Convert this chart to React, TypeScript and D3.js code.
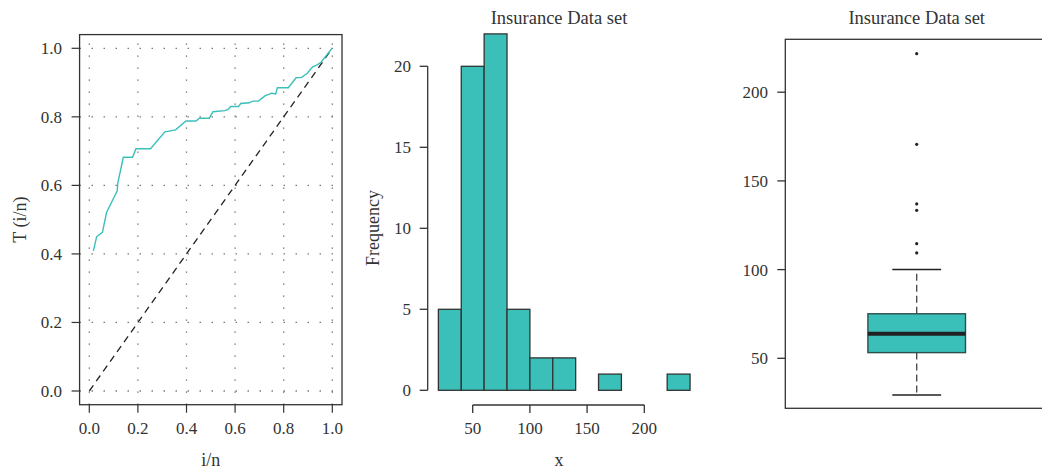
import React from "react";
import * as d3 from "d3";

// ---- Data ----
// TTT plot points (i/n, T(i/n))
const tttX = [0.017, 0.030, 0.054, 0.071, 0.115, 0.117, 0.140, 0.178, 0.192, 0.252, 0.311, 0.355, 0.398, 0.439, 0.453, 0.494, 0.509, 0.558, 0.570, 0.582, 0.614, 0.623, 0.658, 0.672, 0.696, 0.723, 0.751, 0.767, 0.774, 0.819, 0.851, 0.874, 0.897, 0.919, 0.936, 0.952, 0.991, 1.0];
const tttY = [0.409, 0.450, 0.463, 0.521, 0.584, 0.606, 0.682, 0.682, 0.707, 0.707, 0.756, 0.762, 0.788, 0.788, 0.796, 0.796, 0.815, 0.818, 0.821, 0.830, 0.830, 0.839, 0.841, 0.846, 0.846, 0.861, 0.869, 0.867, 0.885, 0.885, 0.914, 0.915, 0.927, 0.946, 0.951, 0.958, 0.993, 1.0];
const tttTicks = [0, 0.2, 0.4, 0.6, 0.8, 1.0];

// Histogram
const binEdges = [20, 40, 60, 80, 100, 120, 140, 160, 180, 200, 220, 240];
const binCounts = [5, 20, 22, 5, 2, 2, 0, 1, 0, 0, 1];
const histXTicks = [50, 100, 150, 200];
const histYTicks = [0, 5, 10, 15, 20];

// Boxplot
const boxStats = { lowWhisker: 29.3, q1: 53.2, median: 63.9, q3: 75.1, highWhisker: 100.0 };
const boxOutliers = [109.4, 114.6, 133.4, 137.0, 170.6, 221.7];
const boxYTicks = [50, 100, 150, 200];

const title = "Insurance Data set";

const TEAL = "#3bbfb9";
const INK = "#333";
const FONT = "'Liberation Serif', 'Times New Roman', serif";

export default function App() {
  // Left panel scales
  const xL = d3.scaleLinear().domain([0, 1]).range([89.3, 332.3]);
  const yL = d3.scaleLinear().domain([0, 1]).range([391, 48.3]);
  const tttLine = d3.line<number>().x((_, i) => xL(tttX[i])).y((d) => yL(d));
  const fmt1 = d3.format(".1f");

  // Histogram scales
  const xH = d3.scaleLinear().domain([50, 200]).range([472.7, 644.3]);
  const yH = d3.scaleLinear().domain([0, 20]).range([390.3, 66.3]);

  // Boxplot scales
  const yB = d3.scaleLinear().domain([50, 200]).range([358.3, 92.2]);
  const bx = 916.7;
  const bhw = 48.8;

  const tickLen = 8;

  return (
    <svg width={1042} height={470} style={{ position: "absolute", left: 0, top: 0, background: "#fff" }} fontFamily={FONT}>
      {/* ===== Left panel: TTT plot ===== */}
      <g>
        {/* grid */}
        {tttTicks.map((t) => (
          <line key={"gx" + t} x1={xL(t)} x2={xL(t)} y1={yL(-0.04)} y2={yL(1.04)} stroke="#666" strokeWidth={1.3} strokeDasharray="1.3 10.7" />
        ))}
        {tttTicks.map((t) => (
          <line key={"gy" + t} y1={yL(t)} y2={yL(t)} x1={xL(-0.04)} x2={xL(1.04)} stroke="#666" strokeWidth={1.3} strokeDasharray="1.3 10.7" />
        ))}
        {/* diagonal */}
        <line x1={xL(0)} y1={yL(0)} x2={xL(1)} y2={yL(1)} stroke="#222" strokeWidth={1.3} strokeDasharray="7 5" />
        {/* curve */}
        <path d={tttLine(tttY) || ""} fill="none" stroke={TEAL} strokeWidth={1.4} />
        {/* frame */}
        <rect x={xL(-0.04)} y={yL(1.04)} width={xL(1.04) - xL(-0.04)} height={yL(-0.04) - yL(1.04)} fill="none" stroke={INK} strokeWidth={1.3} />
        {/* y axis ticks */}
        {tttTicks.map((t) => (
          <g key={"yt" + t}>
            <line x1={xL(-0.04) - tickLen} x2={xL(-0.04)} y1={yL(t)} y2={yL(t)} stroke={INK} strokeWidth={1.2} />
            <text x={62} y={yL(t)} dy="0.35em" textAnchor="end" fontSize={17} fill={INK}>{fmt1(t)}</text>
          </g>
        ))}
        {/* x axis ticks */}
        {tttTicks.map((t) => (
          <g key={"xt" + t}>
            <line x1={xL(t)} x2={xL(t)} y1={yL(-0.04)} y2={yL(-0.04) + tickLen} stroke={INK} strokeWidth={1.2} />
            <text x={xL(t)} y={434} textAnchor="middle" fontSize={17} fill={INK}>{fmt1(t)}</text>
          </g>
        ))}
        <text x={(xL(-0.04) + xL(1.04)) / 2} y={466} textAnchor="middle" fontSize={18} fill={INK}>i/n</text>
        <text transform={`translate(26, ${(yL(-0.04) + yL(1.04)) / 2}) rotate(-90)`} textAnchor="middle" fontSize={18} fill={INK}>T (i/n)</text>
      </g>

      {/* ===== Middle panel: Histogram ===== */}
      <g>
        <text x={559} y={24} textAnchor="middle" fontSize={18.5} fill={INK}>{title}</text>
        {binCounts.map((c, i) =>
          c > 0 ? (
            <rect key={"b" + i} x={xH(binEdges[i])} y={yH(c)} width={xH(binEdges[i + 1]) - xH(binEdges[i])} height={yH(0) - yH(c)} fill={TEAL} stroke={INK} strokeWidth={1.3} />
          ) : null
        )}
        {/* y axis */}
        <line x1={427.7} x2={427.7} y1={yH(0)} y2={yH(20)} stroke={INK} strokeWidth={1.3} />
        {histYTicks.map((t) => (
          <g key={"hy" + t}>
            <line x1={427.7 - tickLen} x2={427.7} y1={yH(t)} y2={yH(t)} stroke={INK} strokeWidth={1.3} />
            <text x={411} y={yH(t)} dy="0.35em" textAnchor="end" fontSize={17} fill={INK}>{t}</text>
          </g>
        ))}
        {/* x axis */}
        <line x1={xH(50)} x2={xH(200)} y1={405} y2={405} stroke={INK} strokeWidth={1.3} />
        {histXTicks.map((t) => (
          <g key={"hx" + t}>
            <line x1={xH(t)} x2={xH(t)} y1={405} y2={405 + tickLen} stroke={INK} strokeWidth={1.3} />
            <text x={xH(t)} y={434} textAnchor="middle" fontSize={17} fill={INK}>{t}</text>
          </g>
        ))}
        <text x={559} y={466} textAnchor="middle" fontSize={18} fill={INK}>x</text>
        <text transform={`translate(379, 228) rotate(-90)`} textAnchor="middle" fontSize={18} fill={INK}>Frequency</text>
      </g>

      {/* ===== Right panel: Boxplot ===== */}
      <g>
        <text x={bx} y={24} textAnchor="middle" fontSize={18.5} fill={INK}>{title}</text>
        <rect x={785.3} y={39.3} width={1048 - 785.3} height={408.3 - 39.3} fill="none" stroke={INK} strokeWidth={1.3} />
        {boxYTicks.map((t) => (
          <g key={"by" + t}>
            <line x1={785.3 - tickLen} x2={785.3} y1={yB(t)} y2={yB(t)} stroke={INK} strokeWidth={1.3} />
            <text x={768} y={yB(t)} dy="0.35em" textAnchor="end" fontSize={17} fill={INK}>{t}</text>
          </g>
        ))}
        {/* whiskers */}
        <line x1={bx} x2={bx} y1={yB(boxStats.q3)} y2={yB(boxStats.highWhisker)} stroke="#444" strokeWidth={1.3} strokeDasharray="7 4" />
        <line x1={bx} x2={bx} y1={yB(boxStats.q1)} y2={yB(boxStats.lowWhisker)} stroke="#444" strokeWidth={1.3} strokeDasharray="7 4" />
        <line x1={bx - bhw / 2} x2={bx + bhw / 2} y1={yB(boxStats.highWhisker)} y2={yB(boxStats.highWhisker)} stroke="#222" strokeWidth={1.5} />
        <line x1={bx - bhw / 2} x2={bx + bhw / 2} y1={yB(boxStats.lowWhisker)} y2={yB(boxStats.lowWhisker)} stroke="#222" strokeWidth={1.5} />
        {/* box */}
        <rect x={bx - bhw} y={yB(boxStats.q3)} width={bhw * 2} height={yB(boxStats.q1) - yB(boxStats.q3)} fill={TEAL} stroke="#2f4f4d" strokeWidth={1.4} />
        <line x1={bx - bhw} x2={bx + bhw} y1={yB(boxStats.median)} y2={yB(boxStats.median)} stroke="#222" strokeWidth={4} />
        {/* outliers */}
        {boxOutliers.map((v, i) => (
          <circle key={"o" + i} cx={bx} cy={yB(v)} r={1.6} fill="#222" />
        ))}
      </g>
    </svg>
  );
}
